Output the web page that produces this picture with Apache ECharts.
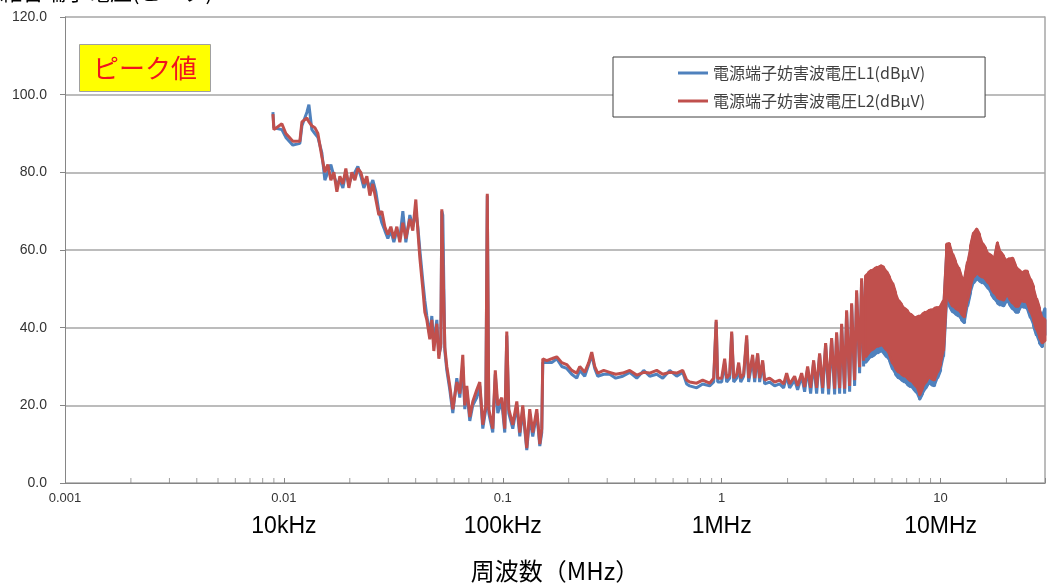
<!DOCTYPE html>
<html>
<head>
<meta charset="utf-8">
<script src="https://cdn.jsdelivr.net/npm/echarts@6/dist/echarts.min.js"></script>
<style>html,body{margin:0;padding:0;background:#fff}#main{width:1047px;height:588px}</style>
</head>
<body>
<div id="main"></div>
<script>
// ---- data (frequency in MHz, level in dBµV) ----
const seriesNames = ['電源端子妨害波電圧L1(dBμV)', '電源端子妨害波電圧L2(dBμV)'];
const xTickLabels = ['0.001', '0.01', '0.1', '1', '10'];
const xUnitLabels = ['', '10kHz', '100kHz', '1MHz', '10MHz'];
const minorTicks = [0.002,0.003,0.004,0.005,0.006,0.007,0.008,0.009,0.02,0.03,0.04,0.05,0.06,0.07,0.08,0.09,0.2,0.3,0.4,0.5,0.6,0.7,0.8,0.9,2,3,4,5,6,7,8,9,20];

// low / mid frequency part
const p1Freq = [0.00891,0.0090,0.00979,0.01021,0.01099,0.01183,0.01209,0.01274,0.01301,0.01342,
  0.01385,0.0143,0.01491,0.01539,0.01588,0.01639,0.01692,0.01746,0.01802,0.0186,
  0.01919,0.01981,0.02044,0.0211,0.02177,0.02247,0.02319,0.02393,0.0247,0.02549,
  0.02631,0.02715,0.02802,0.02892,0.02985,0.0308,0.03179,0.03281,0.03386,0.03495,
  0.03607,0.03762,0.03882,0.04006,0.04092,0.04179,0.04312,0.04404,0.04498,0.04641,
  0.0474,0.04841,0.04996,0.05102,0.05211,0.05266,0.05321,0.05435,0.0555,0.05727,
  0.05911,0.06165,0.06363,0.06566,0.06706,0.06849,0.07068,0.07294,0.07608,0.07851,
  0.08103,0.08363,0.08496,0.08632,0.09,0.09242,0.09488,0.09895,0.1021,0.1043,
  0.1065,0.1111,0.1159,0.1196,0.1234,0.1287,0.1328,0.1371,0.143,0.1476,
  0.1507,0.1523,0.1588,0.1674,0.1764,0.186,0.196,0.2066,0.2177,0.2247,
  0.2368,0.247,0.2549,0.2631,0.2715,0.2892,0.308,0.3281,0.3531,0.3801,
  0.4092,0.4404,0.4691,0.5049,0.5378,0.5789,0.623,0.6636,0.6921,0.7143,
  0.7688,0.8189,0.8814,0.9194,0.9438,0.9588,1.0,1.032,1.054,1.088,
  1.111,1.135,1.171,1.196,1.222,1.26,1.301,1.328,1.385,1.415,
  1.46,1.491,1.539,1.572,1.656,1.746,1.84,1.919,1.981,2.044,
  2.154,2.223,2.319,2.393,2.47,2.549,2.631,2.715,2.802,2.892,
  2.985,3.08,3.179,3.281,3.35,3.458,3.531,3.645,3.722,3.842,
  3.923,4.049,4.135,4.267,4.358,4.45];
const p1L2 = [95,91,92.5,90,88,88,93,94,93,92,
  91.5,90,84,80,82,78,80,75,79,77,
  81,76,80,78,81,80,77,79,74,77,
  73,69,70,66,64,66,63,66,62,67,
  63,68,65,73,65,58,50,44,42,37,
  42,34,41,32,36,70.5,70,35,30,25,
  19,26,23,33,20,25,17,21,24,26,
  15,20,74.5,19,14,29,20,22,14,39,
  19,15,21,13,20,9,19,13,19,10,
  14,32,31.5,32,32.5,31,30.5,29,28.3,30,
  28.5,31,33.7,30,28.3,29,28.5,28,28.3,29,
  27.8,28.5,28.3,29,28,28.5,28.3,29,26.5,26,
  25.7,26.5,25.7,27,42,27,27,32,27,28,
  39,27,28,31,27,28,38,27,33,27,
  33.4,27,31.6,26.5,27,26,26.5,25.5,28.3,25.5,
  27.5,25,28.3,24.7,30,24.5,31.6,24.5,33.4,24.5,
  36,24.3,37.3,24.3,38.8,24.4,41,24.3,44.5,25,
  46.3,26.5,49.6,29.8,52.7,31.5];
const p1L1 = [95.5,91.5,91,89,87,87.5,92,95.5,97.4,91,
  90,89,85,78,80,82,79,77,78,76,
  80,77,79,80,81.5,79,76,78,76,78,
  75,70,67,65,63,65,62,65,63,70,
  62,69,66,70,66,60,52,47,43,38,
  43,36,42,33,35,70,69,34,29,24,
  18,27,22,30,19,24,16,20,22,25,
  14,19,74,18,13,28,18,21,13,38,
  18,14,20,12,19,8.5,17,12,18,9.5,
  13,31,31,31,32,30,29.5,28,27,29,
  27.5,30.5,33,29.5,27.5,28,28,27,27.5,28.5,
  27,29,27.5,28,27,29,27.5,28.5,25.5,25,
  24.5,25.5,25,26,41.5,26,26,31,26,27,
  38.5,26,27,30,26,27.5,37,26,32,26,
  33,26,31,25.5,26,25,25.5,24.5,27.5,24.5,
  26.5,24,27.5,23.5,29.5,23,31,23,33,23,
  35.5,22.8,36.8,22.8,38.3,23,40.5,23,44,23.5,
  45.8,25,49,28.3,52,30];

// dense high-frequency band: per sweep step, upper and lower level
const bandFreq = [4.545,4.691,4.841,4.996,5.156,5.321,5.492,5.668,5.849,6.037,
  6.23,6.43,6.636,6.849,7.068,7.294,7.528,7.769,8.019,8.276,
  8.541,8.814,9.097,9.389,9.689,10.0,10.32,10.65,10.99,11.35,
  11.71,12.09,12.47,12.87,13.28,13.71,14.15,14.6,15.07,15.55,
  16.05,16.56,17.1,17.64,18.21,18.79,19.39,20.01,20.66,21.32,
  22.0,22.71,23.43,24.19,24.96,25.76,26.59,27.44,28.32,29.22,30.0];
const bandL2Hi = [53.5,54.2,54.8,55.2,55.6,56,55.6,54.5,53,51.5,
  49,47,46,45,44.3,43.5,42.8,42.7,43,43.5,
  44,44.4,44.6,45,45.2,45.5,47,61.5,61.7,59,
  57,55.5,53,52.5,57,61,64.5,65.5,64,61.7,
  60.5,59,58.5,58,62,59.5,58.5,57.3,57.8,58,
  56,55,54.2,54.6,54.5,52.5,50.5,47.5,45,42.5,42];
const bandL2Lo = [32.5,33.5,34.2,34.8,35.2,35.5,35.2,34.2,33,30.8,
  29.5,28.5,28,27.5,27,26.3,25.7,24.8,22.6,24.5,
  25.8,27.2,26.8,26.5,28.5,30.5,34,48.8,47,45.5,
  45,44.5,43.5,42.7,47,50.5,53,54,53.5,53,
  52.5,51.5,50,48.8,47.8,47.3,47,48.5,47.5,46.3,
  45.5,45.5,47,46.7,46.3,44,42,39.5,37.5,36,36.5];
const bandL1Hi = [53,53.7,54.3,54.7,55.1,55.5,55.1,54,52.5,51,
  48.5,46.5,45.5,44.5,43.8,43,42.3,42.2,42.5,43,
  43.5,43.9,44.1,44.5,44.7,45,46.5,61,61.2,58.5,
  56.5,55,52.5,52,56.5,60.5,64,65,63.5,61.2,
  60,58.5,58,57.5,61.5,59,58,56.8,57.3,57.5,
  55.5,54.5,53.7,54.1,54,52,50,47,44.5,43,45];
const bandL1Lo = [31,32,32.5,33,33.5,34,33.5,32.5,31.5,29.3,
  28,27,26.5,26,25.3,24.8,24.2,23.3,21.5,23,
  24.3,25.7,25.3,25,27,29,32.5,47,45.5,44,
  43.5,43,42,41.2,45.5,49,51.5,52.5,52,51.5,
  51,50,48.5,47.3,46.3,45.8,45.5,47,46,44.8,
  44,44,45.5,45.2,44.8,42.5,40.5,38,36,35,38];

// ---- build series data ----
function pairs(freq, vals) { return freq.map((f, i) => [f, vals[i]]); }
// each sweep step is drawn as a vertical stroke from its upper to its lower level
function band(freq, hi, lo) {
  const out = [];
  freq.forEach((f, i) => {
    if (i % 2 === 0) { out.push([f, hi[i]]); out.push([f, lo[i]]); }
    else { out.push([f, lo[i]]); out.push([f, hi[i]]); }
  });
  return out;
}
const dataL1 = pairs(p1Freq, p1L1).concat(band(bandFreq, bandL1Hi, bandL1Lo));
const dataL2 = pairs(p1Freq, p1L2).concat(band(bandFreq, bandL2Hi, bandL2Lo));

const BLUE = '#4f81bd', RED = '#c0504d';
const numFont = 'Liberation Sans';
const jpFont = 'Noto Sans CJK JP';

// solid fill of the dense band between its upper and lower envelope (through the axes' scales)
function bandFill(id, color, hi, lo, z) {
  return {
    name: id, type: 'custom', coordinateSystem: 'cartesian2d',
    xAxisIndex: 0, yAxisIndex: 0, silent: true, z: z, z2: 100,
    data: [[bandFreq[0], hi[0]]],
    renderItem: function (params, api) {
      const pts = [];
      for (let i = 0; i < bandFreq.length; i++) pts.push(api.coord([bandFreq[i], hi[i]]));
      for (let i = bandFreq.length - 1; i >= 0; i--) pts.push(api.coord([bandFreq[i], lo[i]]));
      return {type: 'polygon', shape: {points: pts},
        style: {fill: color, stroke: color, lineWidth: 2, lineJoin: 'round'}};
    }
  };
}

const chart = echarts.init(document.getElementById('main'), null, {renderer: 'canvas'});
chart.setOption({
  animation: false,
  backgroundColor: '#ffffff',
  title: {
    text: 'ピーク値',
    left: 79, top: 44,
    backgroundColor: '#ffff00',
    borderColor: '#a0a0a0', borderWidth: 1,
    padding: [11, 14, 11, 14],
    textStyle: {color: '#f0141e', fontSize: 26, fontWeight: 'normal', fontFamily: jpFont}
  },
  graphic: [{
    type: 'text', left: 0, top: -19,
    style: {text: '雑音端子電圧(ピーク)', font: '22px "Noto Sans CJK JP"', fill: '#000'}
  }],
  legend: {
    orient: 'vertical',
    left: 613, top: 57,
    itemWidth: 30, itemHeight: 3, itemGap: 12,
    icon: 'rect',
    backgroundColor: '#ffffff',
    borderColor: '#404040', borderWidth: 1, borderRadius: 0,
    padding: [8, 60, 8, 65],
    textStyle: {fontSize: 16, color: '#404040', fontFamily: jpFont},
    data: seriesNames
  },
  grid: {left: 65, right: 2, top: 17, bottom: 105, containLabel: false, outerBoundsMode: 'none'},
  xAxis: {
    type: 'log', logBase: 10, min: 0.001, max: 30,
    name: '周波数（MHz）', nameLocation: 'middle', nameGap: 76,
    nameTextStyle: {fontSize: 24, color: '#000', fontFamily: jpFont},
    axisLine: {show: true, lineStyle: {color: '#868686', width: 1}},
    axisTick: {show: true, inside: true, length: 5, lineStyle: {color: '#868686'}},
    splitLine: {show: false},
    axisLabel: {
      margin: 7,
      formatter: function (v) {
        const e = Math.log10(v);
        const n = Math.round(e);
        if (Math.abs(e - n) > 1e-6) return '';
        const i = n + 3;
        if (i < 0 || i >= xTickLabels.length) return '';
        if (!xUnitLabels[i]) return '{a|' + xTickLabels[i] + '}';
        return '{a|' + xTickLabels[i] + '}\n{b|' + xUnitLabels[i] + '}';
      },
      rich: {
        a: {fontSize: 13, lineHeight: 16, color: '#333', fontFamily: numFont},
        b: {fontSize: 23, lineHeight: 42, color: '#000', fontFamily: numFont}
      }
    }
  },
  yAxis: [{
    type: 'value', min: 0, max: 120, interval: 20,
    axisLine: {show: true, lineStyle: {color: '#868686', width: 1}},
    axisTick: {show: true, length: 5, lineStyle: {color: '#868686'}},
    axisLabel: {margin: 18, fontSize: 14, color: '#333', fontFamily: numFont,
      formatter: v => v.toFixed(1)},
    splitLine: {show: true, lineStyle: {color: '#a6a6a6', width: 1.5}}
  }, {
    type: 'value', min: 0, max: 120, position: 'right',
    axisLine: {show: true, lineStyle: {color: '#a6a6a6', width: 1.5}},
    axisTick: {show: false}, axisLabel: {show: false}, splitLine: {show: false}
  }],
  series: [
    {
      name: seriesNames[0], type: 'line', data: dataL1,
      showSymbol: false, symbol: 'none',
      color: BLUE, lineStyle: {width: 3, color: BLUE}, z: 3
    },
    bandFill('bandL1', BLUE, bandL1Hi, bandL1Lo, 3),
    {
      name: seriesNames[1], type: 'line', data: dataL2,
      showSymbol: false, symbol: 'none',
      color: RED, lineStyle: {width: 3, color: RED}, z: 4
    },
    bandFill('bandL2', RED, bandL2Hi, bandL2Lo, 5),
    {
      name: 'minorTicks', type: 'scatter', silent: true,
      data: minorTicks.map(f => [f, 0]),
      symbol: 'rect', symbolSize: [1, 5], symbolOffset: [0, -2.5],
      itemStyle: {color: '#868686'}, clip: false, z: 1
    }
  ]
});
</script>
</body>
</html>
